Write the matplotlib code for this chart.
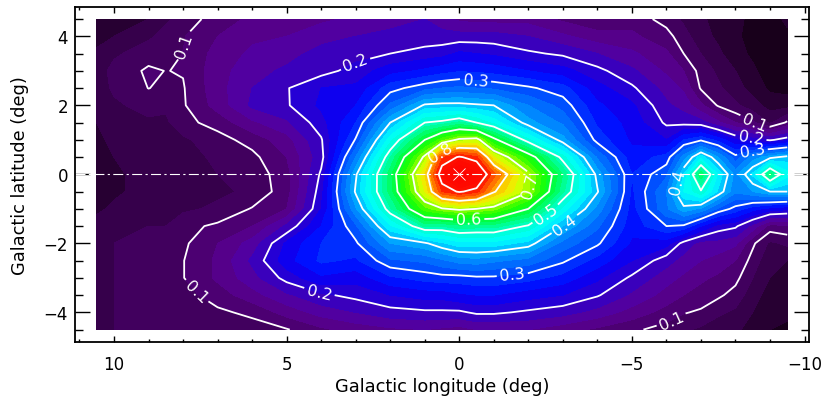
import matplotlib

matplotlib.use("Agg")
import matplotlib.pyplot as plt
import numpy as np
from matplotlib.colors import LinearSegmentedColormap
from matplotlib.ticker import MultipleLocator

latitudes = [4.5, 4, 3.5, 3, 2.5, 2, 1.5, 1, 0.5, 0, -0.5, -1, -1.5, -2, -2.5, -3, -3.5, -4, -4.5]
longitudes = [10.5, 10, 9, 8.5, 8, 7, 6, 5, 4, 3, 2, 1, 0.5, 0, -0.5, -1, -2, -3, -4, -5,
              -6, -6.5, -7, -7.5, -8, -8.5, -9, -9.5]

# one row per longitude at each latitude
intensity = [
    [.03, .04, .055, .06, .06, .055, .05, .045, .04, .04, .04, .045, .06, .07, .07, .07, .07, .07, .07],
    [.035, .05, .07, .085, .08, .07, .06, .055, .05, .045, .045, .055, .07, .075, .075, .075, .075, .075, .075],
    [.05, .07, .09, .104, .1005, .085, .07, .065, .06, .06, .06, .065, .075, .08, .08, .08, .08, .08, .08],
    [.07, .085, .09, .0995, .095, .08, .07, .065, .06, .06, .06, .065, .075, .085, .09, .09, .085, .08, .075],
    [.085, .098, .1005, .1015, .098, .097, .092, .07, .065, .06, .06, .07, .092, .095, .099, .099, .09, .085, .075],
    [.113, .125, .135, .14, .14, .135, .11, .09, .08, .075, .07, .08, .105, .125, .13, .13, .112, .095, .08],
    [.13, .145, .155, .165, .175, .18, .145, .11, .093, .085, .08, .102, .125, .16, .18, .165, .14, .106, .088],
    [.135, .15, .165, .18, .198, .197, .17, .14, .125, .115, .115, .125, .18, .23, .24, .21, .17, .135, .098],
    [.145, .165, .185, .19, .225, .23, .215, .197, .19, .205, .215, .225, .25, .275, .28, .245, .195, .16, .12],
    [.155, .175, .19, .21, .23, .25, .275, .303, .35, .395, .405, .37, .32, .295, .27, .235, .208, .175, .135],
    [.165, .182, .20, .24, .29, .33, .40, .465, .525, .565, .56, .52, .445, .375, .32, .27, .225, .19, .145],
    [.175, .185, .21, .255, .315, .405, .50, .60, .71, .775, .75, .665, .53, .395, .33, .285, .235, .195, .15],
    [.16, .185, .215, .265, .325, .41, .51, .665, .87, .93, .875, .695, .525, .42, .345, .29, .235, .195, .145],
    [.145, .185, .23, .272, .33, .41, .53, .71, .905, 1.0, .905, .71, .54, .44, .36, .29, .245, .195, .14],
    [.14, .186, .225, .27, .325, .405, .50, .72, .88, .96, .885, .70, .535, .44, .365, .295, .25, .205, .15],
    [.14, .185, .22, .265, .32, .40, .465, .615, .75, .86, .805, .685, .535, .44, .355, .295, .25, .205, .15],
    [.14, .175, .205, .25, .305, .35, .385, .48, .63, .71, .705, .60, .495, .415, .34, .285, .235, .195, .15],
    [.12, .155, .195, .235, .285, .315, .345, .385, .485, .55, .53, .465, .40, .34, .305, .265, .225, .185, .135],
    [.105, .135, .175, .208, .235, .255, .27, .29, .345, .39, .403, .365, .33, .305, .265, .23, .203, .165, .12],
    [.115, .13, .155, .18, .205, .23, .24, .245, .26, .275, .27, .265, .26, .245, .225, .195, .17, .14, .105],
    [.09, .11, .13, .145, .165, .18, .195, .225, .285, .32, .35, .345, .30, .235, .185, .16, .14, .115, .09],
    [.07, .085, .10, .125, .145, .165, .19, .275, .36, .425, .45, .39, .295, .19, .165, .145, .125, .102, .08],
    [.055, .06, .075, .09, .097, .13, .185, .295, .44, .57, .495, .37, .25, .165, .15, .13, .115, .096, .07],
    [.04, .045, .055, .07, .08, .097, .155, .265, .375, .445, .42, .32, .215, .165, .14, .12, .105, .08, .06],
    [.03, .03, .035, .05, .06, .08, .125, .225, .31, .365, .355, .29, .205, .155, .125, .108, .09, .07, .055],
    [.02, .015, .02, .03, .04, .06, .105, .21, .36, .43, .375, .26, .165, .105, .09, .075, .06, .05, .04],
    [.015, .01, .01, .01, .02, .04, .07, .195, .39, .56, .40, .24, .115, .07, .055, .05, .04, .035, .025],
    [.03, .02, .01, .01, .015, .04, .105, .215, .41, .46, .40, .23, .12, .08, .05, .035, .03, .03, .02],
]

line_levels = [0.1, 0.2, 0.3, 0.4, 0.5, 0.6, 0.7, 0.8, 0.9]
label_levels = [0.1, 0.2, 0.3, 0.4, 0.5, 0.6, 0.7, 0.8]
label_spots = [
    (8.0, 3.75), (7.64, -3.42), (-8.54, 1.5), (-6.13, -4.2),
    (3.0, 3.2), (4.07, -3.47), (-8.45, 1.07),
    (-0.47, 2.71), (-1.53, -2.84), (-8.5, 0.64),
    (-3.08, -1.49), (-6.17, -0.18),
    (-2.5, -1.15),
    (-0.27, -1.27),
    (-2.15, -0.33),
    (0.49, 0.59),
]
x_ticks = [10, 5, 0, -5, -10]
y_ticks = [4, 2, 0, -2, -4]

color_stops = [
    (0.0, "#100010"), (0.05, "#300040"), (0.1, "#48006a"), (0.15, "#5a0095"), (0.2, "#3000c8"),
    (0.25, "#0000ff"), (0.3, "#0040ff"), (0.4, "#00b4ff"), (0.45, "#00ffff"), (0.5, "#00ffd0"),
    (0.55, "#00ff80"), (0.6, "#00ff30"), (0.65, "#20ff00"), (0.7, "#90ff00"), (0.75, "#e8ff00"),
    (0.8, "#ffc000"), (0.85, "#ff6000"), (0.9, "#ff1000"), (1.0, "#ff0000"),
]
cmap = LinearSegmentedColormap.from_list("idl_rainbow", color_stops)

W, H = 831, 402
fig = plt.figure(figsize=(W / 100, H / 100), dpi=100)
ax = fig.add_axes([75 / W, 1 - 342.7 / H, (809 - 75) / W, (342.7 - 8) / H])

# limits go first: clabel needs the reversed x axis to get the text angles right
ax.set_xlim(11.13, -10.13)
ax.set_ylim(-4.85, 4.85)

z = np.array(intensity).T
ax.contourf(longitudes, latitudes, z, levels=np.linspace(0, 1, 41), cmap=cmap, vmin=0, vmax=1)
lines = ax.contour(longitudes, latitudes, z, levels=line_levels, colors="white", linewidths=1.3)
ax.clabel(lines, levels=label_levels, fmt="%.1f", fontsize=11.5, colors="white", inline=True,
          inline_spacing=3, manual=label_spots)

ax.axhline(0, color="white", lw=0.8, dashes=(9, 3, 2, 3))
ax.plot([0], [0], marker="x", color="white", ms=8.5, mew=0.6, ls="none")

ax.set_xticks(x_ticks)
ax.set_yticks(y_ticks)
ax.xaxis.set_minor_locator(MultipleLocator(1))
ax.yaxis.set_minor_locator(MultipleLocator(0.5))
ax.tick_params(axis="x", which="major", direction="in", top=True, length=4.3, width=1, pad=9.5, labelsize=12)
ax.tick_params(axis="x", which="minor", direction="in", top=True, length=2.2, width=1)
ax.tick_params(axis="y", which="major", direction="in", right=True, length=10.8, width=1, pad=5, labelsize=12)
ax.tick_params(axis="y", which="minor", direction="in", right=True, length=5.8, width=1)
for spine in ax.spines.values():
    spine.set_linewidth(1.3)

ax.set_xlabel("Galactic longitude (deg)", fontsize=12.8)
ax.set_ylabel("Galactic latitude (deg)", fontsize=12.8)
ax.xaxis.set_label_coords(0.5, -0.105)
ax.yaxis.set_label_coords(-0.063, 0.5)

fig.savefig("out.png", dpi=100)
